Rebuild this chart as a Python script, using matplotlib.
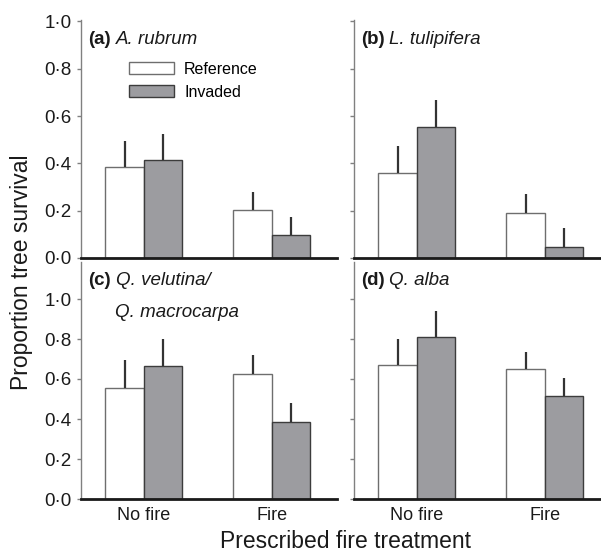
import numpy as np
import matplotlib
matplotlib.use("Agg")
import matplotlib.pyplot as plt
from matplotlib.ticker import FuncFormatter

plt.rcParams['font.family'] = ['Liberation Sans', 'DejaVu Sans']

# Data
treatments = ["No fire", "Fire"]
panel_tags = ["(a)", "(b)", "(c)", "(d)"]
species = ["A. rubrum", "L. tulipifera", "Q. velutina/", "Q. alba"]

ref_mean = [[0.385, 0.203], [0.359, 0.190], [0.557, 0.625], [0.672, 0.648]]
ref_err = [[0.110, 0.076], [0.115, 0.080], [0.138, 0.095], [0.128, 0.085]]
inv_mean = [[0.414, 0.097], [0.554, 0.047], [0.667, 0.383], [0.808, 0.515]]
inv_err = [[0.110, 0.076], [0.114, 0.080], [0.133, 0.095], [0.134, 0.092]]

W, H = 601, 558
fig = plt.figure(figsize=(W / 100, H / 100), dpi=100)

# axes positions in pixels: left, top, bottom
boxes = [(81, 20, 258), (354, 20, 258), (81, 262, 499), (354, 262, 499)]
ytops = [1.006, 1.006, 1.185, 1.185]
ax_w = 256

fmt = FuncFormatter(lambda v, p: f"{v:.1f}".replace('.', '·'))
x = np.arange(len(treatments))
bw = 0.3

axes = []
for i, (l, t, b) in enumerate(boxes):
    ax = fig.add_axes([l / W, 1 - b / H, ax_w / W, (b - t) / H])
    axes.append(ax)
    ax.bar(x - bw / 2, ref_mean[i], bw, color='white', edgecolor='#6e6e6e',
           linewidth=1.0, label='Reference', zorder=2)
    ax.bar(x + bw / 2, inv_mean[i], bw, color='#9c9ca0', edgecolor='#3c3c3c',
           linewidth=1.0, label='Invaded', zorder=2)
    ax.errorbar(x - bw / 2, ref_mean[i], yerr=[np.zeros(2), ref_err[i]],
                fmt='none', ecolor='#333333', elinewidth=1.6, capsize=0, zorder=3)
    ax.errorbar(x + bw / 2, inv_mean[i], yerr=[np.zeros(2), inv_err[i]],
                fmt='none', ecolor='#333333', elinewidth=1.6, capsize=0, zorder=3)

    ax.set_xlim(-0.49, 1.51)
    ax.set_ylim(0, ytops[i])
    ax.set_yticks(np.arange(0, 1.01, 0.2))
    ax.yaxis.set_major_formatter(fmt)
    ax.spines['top'].set_visible(False)
    ax.spines['right'].set_visible(False)
    ax.spines['left'].set_color('#808080')
    ax.spines['left'].set_linewidth(1.0)
    ax.spines['bottom'].set_color('#1a1a1a')
    ax.spines['bottom'].set_linewidth(2.0)
    ax.spines['bottom'].set_zorder(4)
    ax.tick_params(axis='y', direction='out', length=3, width=1.0,
                   color='#808080', labelsize=13.5, pad=4, labelcolor='#1a1a1a')
    ax.tick_params(axis='x', length=0, labelsize=13, pad=6, labelcolor='#1a1a1a')
    ax.set_xticks(x)
    if i < 2:
        ax.set_xticklabels([])
    else:
        ax.set_xticklabels(treatments)
    if i % 2 == 1:
        ax.set_yticklabels([])

    ty = 0.916 if i < 2 else 0.924
    ax.text(0.027, ty, panel_tags[i], transform=ax.transAxes, fontsize=13.5,
            fontweight='bold', va='center', ha='left', color='#1a1a1a')
    ax.text(0.137, ty, species[i], transform=ax.transAxes, fontsize=13.5,
            fontstyle='italic', va='center', ha='left', color='#1a1a1a')

axes[2].text(0.133, 0.785, "Q. macrocarpa", transform=axes[2].transAxes,
             fontsize=13.5, fontstyle='italic', va='center', ha='left', color='#1a1a1a')

axes[0].legend(loc='upper left', bbox_to_anchor=(129 / W, 1 - 62 / H),
               bbox_transform=fig.transFigure, frameon=False, fontsize=11.5,
               handlelength=2.8, handleheight=0.78, labelspacing=0.5,
               handletextpad=0.65, borderpad=0, borderaxespad=0)

fig.text(22 / W, 1 - 272 / H, "Proportion tree survival", rotation=90,
         fontsize=16.5, ha='center', va='center', color='#1a1a1a')
fig.text(345 / W, 1 - 541 / H, "Prescribed fire treatment",
         fontsize=16.5, ha='center', va='center', color='#1a1a1a')

fig.savefig("out.png", dpi=100)
